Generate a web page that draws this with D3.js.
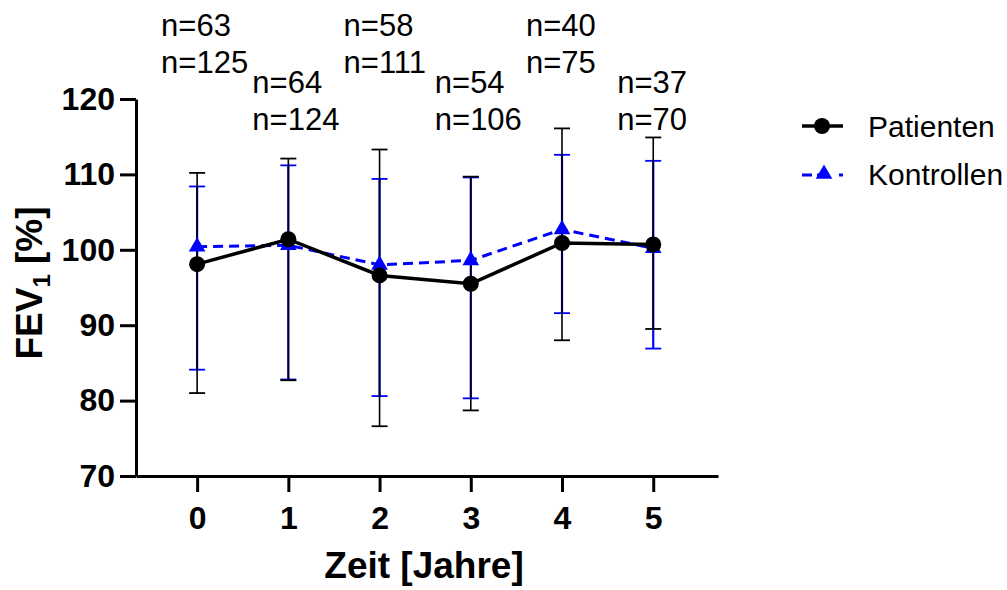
<!DOCTYPE html>
<html>
<head>
<meta charset="utf-8">
<script src="https://cdn.jsdelivr.net/npm/d3@7"></script>
<style>
  body { margin: 0; background: #fff; }
  svg { font-family: "Liberation Sans", Arial, sans-serif; }
</style>
</head>
<body>
<div id="wrapper"></div>
<script>
// years
const years = [0, 1, 2, 3, 4, 5];

// Patienten: mean, upper and lower end of error bar (FEV1 %)
const patMean = [98.1, 101.4, 96.6, 95.5, 100.9, 100.7];
const patHigh = [110.2, 112.1, 113.3, 109.7, 116.1, 114.9];
const patLow  = [81.0, 82.7, 76.6, 78.7, 88.0, 89.5];

// Kontrollen
const konMean = [100.4, 100.6, 98.0, 98.6, 102.7, 100.2];
const konHigh = [108.4, 111.2, 109.4, 109.6, 112.6, 111.8];
const konLow  = [84.1, 82.8, 80.6, 80.3, 91.6, 86.9];

// sample sizes printed above the chart
const patN = [63, 64, 58, 54, 40, 37];
const konN = [125, 124, 111, 106, 75, 70];

const yTicks = [70, 80, 90, 100, 110, 120];
const legendLabels = ["Patienten", "Kontrollen"];

function buildPlot() {
    var dimension = {
        width: 1007,
        height: 590
    };

    const svg = d3.select("#wrapper").append("svg")
        .attr("width", dimension.width)
        .attr("height", dimension.height);

    const xMan = d3.scaleLinear()
        .domain([-0.67, 5.71])
        .range([136, 718]);

    const yMan = d3.scaleLinear()
        .domain([70, 120])
        .range([476, 99]);

    // error bars, controls first (blue), patients on top (black)
    const drawErr = (low, high, color, width) => {
        const g = svg.append("g");
        years.forEach((yr, i) => {
            const x = xMan(yr);
            g.append("line")
                .attr("x1", x).attr("x2", x)
                .attr("y1", yMan(low[i])).attr("y2", yMan(high[i]))
                .attr("stroke", color).attr("stroke-width", width);
            [low[i], high[i]].forEach(v => {
                g.append("line")
                    .attr("x1", x - 8).attr("x2", x + 8)
                    .attr("y1", yMan(v)).attr("y2", yMan(v))
                    .attr("stroke", color).attr("stroke-width", 1.8);
            });
        });
    };
    drawErr(konLow, konHigh, "#0000ff", 2.2);
    drawErr(patLow, patHigh, "#000000", 1.6);

    // Kontrollen line
    const lineKon = d3.line()
        .x((d, i) => xMan(years[i]))
        .y(d => yMan(d));

    svg.append("path")
        .attr("d", lineKon(konMean))
        .attr("fill", "none")
        .attr("stroke", "#0000ff")
        .attr("stroke-width", 3)
        .attr("stroke-dasharray", "10,6");

    const tri = d3.symbol().type(d3.symbolTriangle).size(120);
    svg.append("g").selectAll("path")
        .data(konMean)
        .join("path")
        .attr("d", tri)
        .attr("transform", (d, i) => `translate(${xMan(years[i])},${yMan(d)})`)
        .attr("fill", "#0000ff");

    // Patienten line
    svg.append("path")
        .attr("d", lineKon(patMean))
        .attr("fill", "none")
        .attr("stroke", "#000")
        .attr("stroke-width", 3.5);

    svg.append("g").selectAll("circle")
        .data(patMean)
        .join("circle")
        .attr("cx", (d, i) => xMan(years[i]))
        .attr("cy", d => yMan(d))
        .attr("r", 8)
        .attr("fill", "#000");

    // axes
    const xAxis = d3.axisBottom(xMan)
        .tickValues(years)
        .tickSize(16)
        .tickSizeOuter(0)
        .tickPadding(14)
        .tickFormat(d3.format("d"));
    const yAxis = d3.axisLeft(yMan)
        .tickValues(yTicks)
        .tickSize(16)
        .tickSizeOuter(0)
        .tickPadding(5);

    const gx = svg.append("g")
        .attr("transform", `translate(0, ${yMan(70)})`)
        .call(xAxis);
    const gy = svg.append("g")
        .attr("transform", `translate(${xMan.range()[0]}, 0)`)
        .call(yAxis);

    [gx, gy].forEach(g => {
        g.selectAll("path, line").attr("stroke", "#000").attr("stroke-width", 3);
        g.selectAll("text")
            .attr("fill", "#000")
            .style("font-size", "32px")
            .style("font-weight", "bold")
            .style("font-family", "'Liberation Sans', Arial, sans-serif");
    });

    // axis titles
    svg.append("text")
        .attr("x", 424)
        .attr("y", 578)
        .attr("text-anchor", "middle")
        .style("font-size", "37px")
        .style("font-weight", "bold")
        .text("Zeit [Jahre]");

    const yTitle = svg.append("text")
        .attr("transform", "translate(42, 283) rotate(-90)")
        .attr("text-anchor", "middle")
        .style("font-size", "37px")
        .style("font-weight", "bold");
    yTitle.append("tspan").text("FEV");
    yTitle.append("tspan").attr("dy", 8).style("font-size", "24px").text("1");
    yTitle.append("tspan").attr("dy", -8).text(" [%]");

    // n labels
    const nG = svg.append("g").style("font-size", "31px");
    years.forEach((yr, i) => {
        const base = i % 2 === 0 ? 36 : 93;
        nG.append("text")
            .attr("x", xMan(yr) - 36)
            .attr("y", base)
            .text("n=" + patN[i]);
        nG.append("text")
            .attr("x", xMan(yr) - 36)
            .attr("y", base + 37)
            .text("n=" + konN[i]);
    });

    // legend
    const leg = svg.append("g").attr("transform", "translate(802, 0)");
    leg.append("line")
        .attr("x1", 0).attr("x2", 41)
        .attr("y1", 126).attr("y2", 126)
        .attr("stroke", "#000").attr("stroke-width", 3.5);
    leg.append("circle")
        .attr("cx", 20).attr("cy", 126).attr("r", 8).attr("fill", "#000");
    leg.append("line")
        .attr("x1", 0).attr("x2", 41)
        .attr("y1", 175).attr("y2", 175)
        .attr("stroke", "#0000ff").attr("stroke-width", 3)
        .attr("stroke-dasharray", "10,5,12,10,4");
    leg.append("path")
        .attr("d", tri)
        .attr("transform", "translate(22, 174)")
        .attr("fill", "#0000ff");
    leg.selectAll("text.lab")
        .data(legendLabels)
        .join("text")
        .attr("class", "lab")
        .attr("x", 66)
        .attr("y", (d, i) => 137 + i * 48)
        .style("font-size", "30px")
        .text(d => d);
}

buildPlot();
</script>
</body>
</html>
